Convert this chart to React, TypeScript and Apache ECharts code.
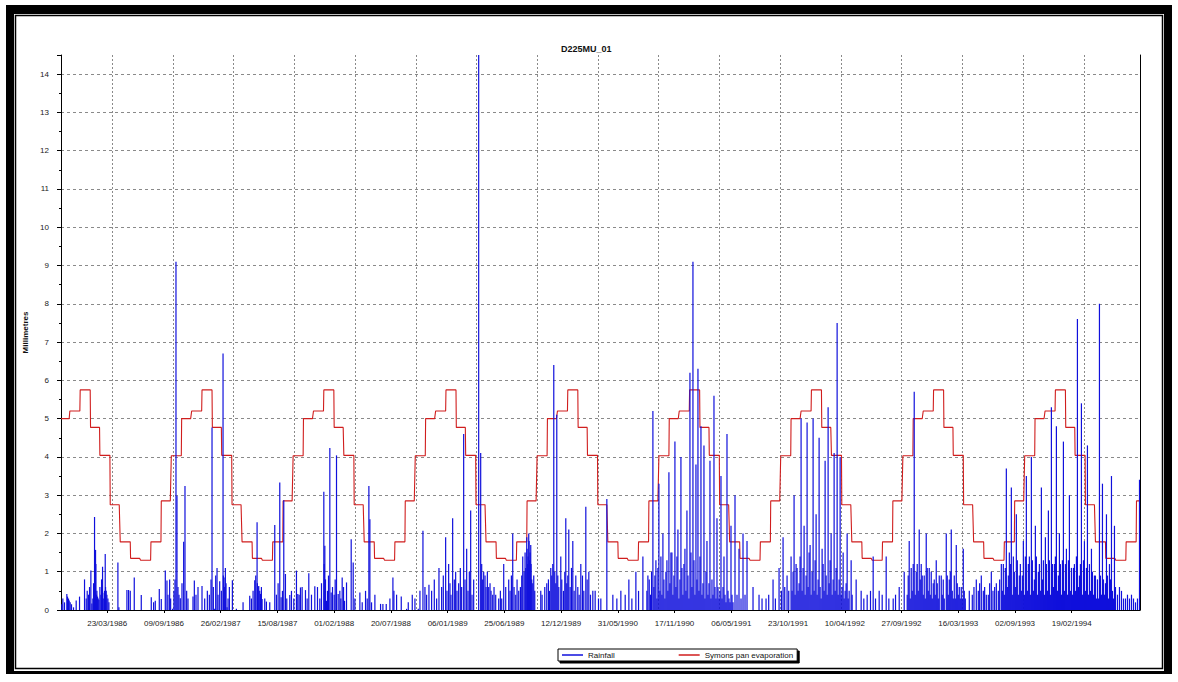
import React, { useEffect, useRef } from "react";
import * as echarts from "echarts";

// ---- data ----
const START_YEAR = 1985;
const START_MONTH = 10; // November (0-based)
const START_DAY = 5;
const N_DAYS = 3233;

// Symons pan evaporation, monthly mean (mm/day), Jan..Dec
const evapMonthly = [5.75, 4.77, 4.04, 2.75, 1.78, 1.35, 1.3, 1.78, 2.85, 4.03, 5.0, 5.2];

// Rainfall, larger events: [day offset from start, mm]
const rainEvents: [number, number][] = [
  [2, 0.15], [5, 0.3], [17, 0.42], [19, 0.35], [22, 0.3], [24, 0.25], [27, 0.2], [37, 0.07], [55, 0.35],
  [70, 0.8], [89, 1.03], [92, 0.17], [100, 2.43], [101, 1.0], [103, 1.57], [104, 1.2], [106, 0.4], [107, 0.5],
  [109, 0.35], [113, 0.26], [124, 1.13], [129, 0.45], [130, 0.5], [132, 1.46], [133, 0.6], [135, 0.5],
  [137, 0.4], [140, 0.3], [170, 1.24], [173, 0.07], [197, 0.52], [202, 0.52], [207, 0.5], [219, 0.85],
  [240, 0.39], [270, 0.33], [277, 0.2], [282, 0.24], [294, 0.55], [300, 0.29], [312, 1.03], [317, 0.77],
  [325, 0.8], [334, 0.03], [344, 9.1], [347, 2.98], [357, 0.31], [367, 1.78], [371, 3.24], [395, 0.35],
  [399, 0.77], [422, 0.63], [449, 0.8], [452, 4.77], [460, 0.03], [467, 1.1], [475, 0.75], [485, 6.7],
  [486, 0.9], [488, 0.85], [490, 0.6], [492, 1.1], [494, 0.7], [497, 0.07], [513, 0.78], [525, 0.03],
  [565, 0.37], [580, 0.78], [587, 2.29], [588, 0.7], [590, 0.6], [592, 0.63], [597, 0.42], [602, 0.29],
  [615, 0.22], [640, 2.22], [655, 3.33], [659, 0.33], [667, 2.87], [672, 0.94], [685, 0.39], [705, 1.03],
  [709, 0.42], [717, 0.59], [732, 0.52], [742, 0.96], [760, 0.62], [787, 3.09], [788, 1.2], [790, 1.68],
  [792, 0.8], [795, 0.24], [805, 4.23], [809, 0.46], [825, 4.04], [830, 0.42], [842, 0.85], [849, 0.24],
  [855, 0.72], [869, 1.85], [875, 1.24], [895, 0.46], [902, 0.2], [922, 3.24], [925, 2.37], [930, 0.2],
  [957, 0.16], [964, 0.16], [974, 0.16], [994, 0.85], [997, 0.5], [1019, 0.35], [1035, 0.03], [1070, 0.03],
  [1084, 2.07], [1102, 0.66], [1132, 1.1],
  [1152, 1.9], [1161, 1.2], [1173, 2.4], [1182, 1.0], [1191, 0.7], [1206, 4.6], [1215, 1.6], [1227, 2.6],
  [1236, 0.8], [1251, 14.5], [1257, 4.1], [1266, 1.0], [1281, 0.6], [1293, 0.4], [1311, 0.3], [1326, 1.2],
  [1341, 0.8], [1353, 2.0], [1371, 0.5], [1383, 1.4], [1395, 1.9], [1398, 1.2], [1401, 2.0], [1404, 1.3],
  [1407, 1.7], [1410, 0.8], [1416, 0.9], [1437, 0.5], [1455, 0.7], [1467, 1.1], [1476, 6.4], [1485, 5.1],
  [1497, 1.4], [1512, 2.4], [1521, 2.1], [1533, 1.8], [1542, 0.9], [1557, 1.2], [1572, 2.7], [1581, 1.0],
  [1593, 0.5], [1617, 0.3], [1635, 2.9], [1653, 0.4], [1677, 0.5], [1701, 0.8], [1722, 1.0], [1743, 1.4],
  [1758, 0.9], [1773, 5.2], [1782, 1.3], [1791, 3.3], [1803, 2.0], [1812, 1.0], [1821, 3.6], [1830, 1.5],
  [1839, 4.4], [1848, 2.1], [1857, 4.0], [1866, 1.2], [1875, 2.6], [1884, 6.2], [1893, 9.1], [1902, 3.8],
  [1908, 6.3], [1917, 4.8], [1926, 4.3], [1935, 1.8], [1944, 3.9], [1956, 5.6], [1965, 2.4], [1977, 3.5],
  [1986, 1.4], [1995, 4.6], [2007, 2.2], [2019, 3.0], [2031, 1.6], [2043, 2.0], [2055, 1.8], [2073, 0.6],
  [2091, 0.4], [2112, 0.3], [2133, 0.8], [2151, 1.1], [2163, 1.9], [2175, 0.9], [2187, 1.4], [2196, 3.0],
  [2205, 1.1], [2217, 5.0], [2226, 2.2], [2235, 4.9], [2244, 1.7], [2253, 5.0], [2262, 2.5], [2271, 4.5],
  [2280, 1.6], [2289, 3.9], [2298, 5.3], [2307, 2.0], [2316, 4.1], [2325, 7.5], [2334, 4.0], [2343, 1.5],
  [2355, 2.0], [2367, 1.3], [2382, 0.8], [2397, 0.5], [2415, 0.4], [2433, 1.4], [2451, 0.5], [2472, 1.4],
  [2493, 0.3], [2511, 0.6], [2526, 1.0], [2541, 1.8], [2556, 5.7], [2565, 1.2], [2571, 2.1], [2580, 0.9],
  [2592, 2.0], [2601, 1.1], [2613, 0.7], [2622, 1.3], [2637, 0.9], [2652, 2.0], [2661, 0.8], [2667, 2.1],
  [2682, 1.7], [2691, 0.6], [2703, 1.6], [2721, 0.5], [2742, 0.8], [2757, 0.9], [2772, 0.4], [2787, 1.0],
  [2802, 0.7], [2817, 1.2], [2832, 3.7], [2841, 1.5], [2847, 3.2], [2856, 1.0], [2862, 2.5], [2871, 0.9],
  [2883, 1.8], [2892, 3.5], [2901, 1.4], [2907, 4.0], [2919, 2.2], [2928, 1.0], [2937, 3.2], [2949, 1.9],
  [2958, 2.6], [2967, 5.3], [2976, 1.2], [2982, 4.8], [2991, 2.0], [3003, 4.4], [3012, 1.6], [3021, 3.0],
  [3033, 1.1], [3045, 7.6], [3057, 5.4], [3066, 1.8], [3075, 4.3], [3087, 1.6], [3096, 0.9], [3111, 8.0],
  [3120, 3.3], [3132, 2.5], [3141, 1.2], [3147, 3.5], [3156, 2.2], [3171, 0.6], [3189, 0.3], [3207, 0.4],
  [3231, 3.4],
];

// Rainfall, small daily amounts in wet spells: [day offset from start, mm]
const rainSmall: [number, number][] = [
  [10, 0.2], [31, 0.15], [45, 0.25], [75, 0.3], [78, 0.5], [82, 0.4], [85, 0.6], [95, 0.3], [97, 0.7],
  [111, 0.3], [116, 0.6], [119, 0.4], [121, 0.8], [126, 0.3], [143, 0.2],
  [320, 0.4], [328, 0.3], [338, 0.5], [341, 0.8], [350, 0.6], [353, 0.4], [362, 0.7], [376, 0.5], [380, 0.3],
  [404, 0.4], [410, 0.6], [430, 0.3], [438, 0.5], [444, 0.4], [456, 0.6], [463, 0.9], [470, 0.4], [480, 0.5],
  [500, 0.3], [504, 0.6],
  [545, 0.2], [570, 0.3], [575, 0.5], [583, 0.9], [595, 0.5], [600, 0.6], [610, 0.3], [625, 0.2], [645, 0.4],
  [650, 0.7], [663, 0.5], [676, 0.3],
  [690, 0.5], [697, 0.3], [713, 0.4], [722, 0.6], [737, 0.3], [750, 0.4], [768, 0.6], [775, 0.3], [780, 0.7],
  [798, 0.5], [801, 0.9], [813, 0.6], [818, 0.4], [821, 0.8], [835, 0.5], [838, 0.3], [846, 0.6],
  [880, 0.3], [912, 0.5], [917, 0.3], [940, 0.4], [985, 0.3], [1005, 0.4], [1040, 0.2],
  [1052, 0.4], [1060, 0.3], [1075, 0.5], [1090, 0.6], [1095, 0.4], [1110, 0.5], [1118, 0.8], [1125, 0.3],
  [1140, 0.6], [1145, 0.9], [1156, 0.5], [1165, 0.7], [1168, 0.4], [1178, 0.8], [1186, 0.5], [1196, 1.1],
  [1200, 0.6], [1210, 0.8], [1219, 0.5], [1223, 1.0], [1231, 0.4],
  [1260, 1.2], [1263, 0.8], [1270, 0.9], [1273, 0.6], [1277, 1.0], [1285, 0.7], [1288, 0.5], [1297, 0.6],
  [1302, 0.4], [1316, 0.5], [1320, 0.3], [1332, 0.6], [1345, 0.5], [1349, 0.9], [1357, 0.6], [1362, 0.4],
  [1366, 0.8], [1376, 0.6], [1380, 0.9], [1387, 1.0], [1390, 1.5], [1392, 1.1], [1396, 1.6], [1399, 1.4],
  [1402, 1.8], [1405, 1.5], [1408, 1.2], [1413, 0.7], [1419, 0.5],
  [1441, 0.4], [1449, 0.6], [1460, 0.8], [1463, 0.5], [1470, 0.9], [1473, 1.2], [1479, 1.0], [1482, 0.7],
  [1488, 0.9], [1491, 0.6], [1500, 0.8], [1505, 0.5], [1509, 1.0], [1515, 0.7], [1518, 0.9], [1525, 0.6],
  [1529, 1.1], [1537, 0.5], [1548, 0.6], [1552, 0.4], [1562, 0.9], [1566, 0.5], [1576, 0.8], [1586, 0.4],
  [1600, 0.5], [1610, 0.3],
  [1665, 0.3], [1690, 0.4], [1710, 0.3], [1730, 0.5],
  [1755, 0.5], [1762, 0.8], [1766, 0.4], [1769, 1.0], [1776, 0.6], [1779, 0.9], [1785, 0.3], [1788, 1.1],
  [1794, 0.5], [1797, 1.4], [1800, 0.4], [1806, 0.8], [1809, 0.3], [1815, 1.3], [1818, 0.5], [1824, 0.7],
  [1827, 1.5], [1833, 0.4], [1836, 0.9], [1842, 0.6], [1845, 1.4], [1851, 0.3], [1854, 0.8], [1860, 1.1],
  [1863, 0.4], [1869, 1.6], [1872, 0.5], [1878, 0.9], [1881, 0.3], [1887, 1.5], [1890, 0.6], [1896, 1.3],
  [1899, 0.4], [1905, 0.8], [1911, 0.5], [1914, 1.4], [1920, 0.4], [1923, 0.7], [1929, 0.3], [1932, 1.0],
  [1938, 0.4], [1941, 0.7], [1947, 0.3], [1950, 0.8], [1953, 0.4], [1959, 0.6], [1962, 0.3], [1968, 0.6],
  [1971, 0.3], [1974, 0.5], [1980, 0.3], [1983, 0.6], [1989, 0.4], [1992, 0.2], [1998, 0.5], [2001, 0.3],
  [2004, 0.2], [2010, 0.4], [2013, 0.2], [2025, 0.4], [2037, 0.3], [2049, 0.4],
  [2100, 0.3], [2120, 0.4], [2140, 0.3], [2158, 0.5], [2168, 0.6], [2180, 0.5],
  [2190, 0.5], [2193, 1.0], [2199, 0.4], [2202, 1.2], [2208, 0.5], [2211, 0.7], [2214, 1.4], [2220, 0.5],
  [2223, 1.1], [2229, 0.4], [2232, 0.9], [2238, 0.6], [2241, 1.5], [2247, 0.4], [2250, 1.0], [2256, 0.5],
  [2259, 1.3], [2265, 0.4], [2268, 0.8], [2274, 0.6], [2277, 0.3], [2283, 1.2], [2286, 0.5], [2292, 0.9],
  [2295, 0.4], [2301, 0.7], [2304, 1.3], [2310, 0.4], [2313, 0.8], [2319, 0.5], [2322, 1.1], [2328, 0.4],
  [2331, 0.8], [2337, 0.4], [2340, 0.6], [2346, 0.3], [2349, 0.5], [2352, 0.7], [2358, 0.3], [2361, 0.5],
  [2370, 0.4],
  [2405, 0.3], [2425, 0.5], [2440, 0.3], [2460, 0.4], [2480, 0.3], [2500, 0.4],
  [2535, 0.4], [2538, 0.9], [2544, 0.3], [2547, 1.1], [2550, 0.5], [2553, 1.2], [2559, 0.4], [2562, 1.0],
  [2568, 0.5], [2574, 0.8], [2577, 1.2], [2583, 0.4], [2586, 0.9], [2589, 0.3], [2595, 1.1], [2598, 0.5],
  [2604, 0.4], [2607, 1.0], [2610, 0.3], [2616, 0.8], [2619, 0.4], [2625, 0.7], [2628, 0.3], [2631, 0.9],
  [2640, 0.4], [2643, 0.8], [2646, 0.3], [2655, 0.9], [2658, 0.4], [2664, 1.0], [2670, 0.5], [2673, 0.3],
  [2676, 0.9], [2679, 0.3], [2685, 0.7], [2688, 0.4], [2694, 0.3], [2697, 0.6], [2700, 0.3], [2706, 0.5],
  [2709, 0.3],
  [2730, 0.4], [2735, 0.6], [2748, 0.5], [2752, 0.7], [2763, 0.5], [2767, 0.6], [2778, 0.4], [2782, 0.7],
  [2792, 0.5], [2797, 0.6], [2808, 0.5], [2812, 0.8],
  [2820, 0.5], [2823, 1.2], [2826, 0.4], [2829, 1.1], [2835, 0.6], [2838, 0.9], [2844, 1.2], [2850, 0.4],
  [2853, 1.4], [2859, 0.6], [2865, 1.3], [2868, 0.4], [2874, 1.2], [2877, 0.5], [2880, 0.9], [2886, 0.4],
  [2889, 1.4], [2895, 0.5], [2898, 1.2], [2904, 0.4], [2910, 1.3], [2913, 0.5], [2916, 0.8], [2922, 1.4],
  [2925, 0.4], [2931, 1.2], [2934, 0.5], [2940, 0.8], [2943, 1.3], [2946, 0.4], [2952, 1.2], [2955, 0.5],
  [2961, 1.3], [2964, 0.4], [2970, 1.2], [2973, 0.6], [2979, 1.4], [2985, 0.5], [2988, 0.9], [2994, 1.2],
  [2997, 0.4], [3000, 1.3], [3006, 0.5], [3009, 1.2], [3015, 0.4], [3018, 1.3], [3024, 0.5], [3027, 1.1],
  [3030, 0.4], [3036, 1.2], [3039, 0.5], [3042, 1.4], [3048, 0.6], [3051, 0.9], [3054, 1.2], [3060, 0.4],
  [3063, 1.3], [3069, 0.5], [3072, 1.1], [3078, 0.4], [3081, 1.2], [3084, 0.5], [3090, 1.0], [3093, 0.4],
  [3099, 0.9], [3102, 0.3], [3105, 0.8], [3108, 0.3], [3114, 0.9], [3117, 0.4],
  [3123, 0.8], [3126, 0.4], [3129, 0.7], [3135, 0.9], [3138, 0.3], [3144, 0.8], [3150, 0.5], [3153, 0.3],
  [3159, 0.6], [3165, 0.4], [3177, 0.5], [3183, 0.3], [3195, 0.4], [3201, 0.3], [3213, 0.3], [3219, 0.2],
  [3225, 0.3],
];

// x-axis: 18 labels every 170 days from day 138; gridline every 182 days from day 153
const LABEL_FIRST = 138;
const LABEL_STEP = 170;
const LABEL_COUNT = 18;
const GRID_FIRST = 153;
const GRID_STEP = 182;

// ---- derived tables ----
const pad = (n: number) => (n < 10 ? "0" + n : String(n));
const startMs = Date.UTC(START_YEAR, START_MONTH, START_DAY);
const dates: string[] = [];
const evapDaily: number[] = [];
for (let i = 0; i < N_DAYS; i++) {
  const d = new Date(startMs + i * 86400000);
  dates.push(pad(d.getUTCDate()) + "/" + pad(d.getUTCMonth() + 1) + "/" + d.getUTCFullYear());
  evapDaily.push(evapMonthly[d.getUTCMonth()]);
}
const rainfall: number[] = new Array(N_DAYS).fill(0);
rainSmall.forEach(([day, mm]) => {
  if (day >= 0 && day < N_DAYS) rainfall[day] = mm;
});
rainEvents.forEach(([day, mm]) => {
  if (day >= 0 && day < N_DAYS) rainfall[day] = mm;
});

const FONT = "'Liberation Sans', Arial, sans-serif";

export default function App() {
  const ref = useRef<HTMLDivElement>(null);
  useEffect(() => {
    if (!ref.current) return;
    const chart = echarts.init(ref.current, undefined, { renderer: "svg" });
    const labelInterval = (idx: number) =>
      idx >= LABEL_FIRST &&
      (idx - LABEL_FIRST) % LABEL_STEP === 0 &&
      (idx - LABEL_FIRST) / LABEL_STEP < LABEL_COUNT;
    const gridInterval = (idx: number) => idx >= GRID_FIRST && (idx - GRID_FIRST) % GRID_STEP === 0;
    const hLineColors: string[] = [];
    for (let i = 0; i < 15; i++) hLineColors.push("#8a8a8a");
    hLineColors.push("rgba(0,0,0,0)");

    chart.setOption({
      animation: false,
      backgroundColor: "#ffffff",
      title: {
        text: "D225MU_01",
        left: 556,
        top: 39,
        textStyle: { fontSize: 9, fontWeight: "bold", color: "#111", fontFamily: FONT },
      },
      legend: {
        left: 558,
        top: 649,
        data: [
          { name: "Rainfall", icon: "rect" },
          { name: "Symons pan evaporation", icon: "rect" },
        ],
        itemWidth: 21,
        itemHeight: 1.5,
        itemGap: 64,
        padding: [2, 4, 2, 4],
        borderColor: "#000",
        borderWidth: 1,
        backgroundColor: "#fff",
        shadowColor: "#000",
        shadowOffsetX: 2,
        shadowOffsetY: 2,
        shadowBlur: 0,
        textStyle: { fontSize: 8, color: "#111", fontFamily: FONT },
      },
      grid: { left: 61, right: 38, top: 55, bottom: 72 },
      xAxis: {
        type: "category",
        data: dates,
        boundaryGap: true,
        axisLine: { show: true, lineStyle: { color: "#000", width: 1 } },
        axisTick: { show: true, interval: labelInterval, alignWithLabel: true, length: 3, lineStyle: { color: "#000" } },
        axisLabel: { interval: labelInterval, fontSize: 8, color: "#222", margin: 9, fontFamily: FONT },
        splitLine: { show: true, interval: gridInterval, lineStyle: { color: "#8a8a8a", type: [2, 2], width: 1 } },
      },
      yAxis: [
        {
          type: "value",
          min: 0,
          max: 14.5,
          interval: 1,
          name: "Millimetres",
          nameLocation: "middle",
          nameGap: 25,
          nameTextStyle: { fontSize: 8, fontWeight: "bold", color: "#111", fontFamily: FONT },
          axisLine: { show: true, lineStyle: { color: "#000", width: 1 } },
          axisTick: { show: true, length: 4, lineStyle: { color: "#000" } },
          minorTick: { show: true, splitNumber: 2, length: 2, lineStyle: { color: "#000" } },
          axisLabel: {
            fontSize: 8,
            color: "#222",
            margin: 12,
            fontFamily: FONT,
            formatter: (v: number) => (Number.isInteger(v) ? String(v) : ""),
          },
          splitLine: { show: true, lineStyle: { color: hLineColors, type: [3, 3], width: 1 } },
        },
        {
          type: "value",
          position: "right",
          min: 0,
          max: 14.5,
          interval: 1,
          axisLine: { show: true, lineStyle: { color: "#000", width: 1 } },
          axisTick: { show: false },
          axisLabel: { show: false },
          splitLine: { show: false },
        },
      ],
      series: [
        {
          name: "Symons pan evaporation",
          type: "line",
          data: evapDaily,
          symbol: "none",
          showSymbol: false,
          lineStyle: { color: "#d01e1e", width: 1.1 },
          itemStyle: { color: "#d01e1e" },
          z: 2,
        },
        {
          name: "Rainfall",
          type: "bar",
          data: rainfall,
          barWidth: 1.2,
          itemStyle: { color: "#1010dc" },
          z: 3,
        },
      ],
      graphic: [
        { type: "rect", shape: { x: 6, y: 5, width: 1166, height: 9 }, style: { fill: "#000" }, silent: true },
        { type: "rect", shape: { x: 6, y: 5, width: 8, height: 669 }, style: { fill: "#000" }, silent: true },
        { type: "rect", shape: { x: 1164, y: 5, width: 8, height: 669 }, style: { fill: "#000" }, silent: true },
        { type: "rect", shape: { x: 6, y: 671, width: 1166, height: 3 }, style: { fill: "#000" }, silent: true },
        {
          type: "rect",
          shape: { x: 15.5, y: 15.5, width: 1147, height: 653 },
          style: { fill: "none", stroke: "#000", lineWidth: 1.5 },
          silent: true,
        },
      ],
    });
    return () => chart.dispose();
  }, []);
  return (
    <div
      ref={ref}
      style={{ position: "fixed", left: 0, top: 0, width: 1178, height: 682, background: "#fff" }}
    />
  );
}
